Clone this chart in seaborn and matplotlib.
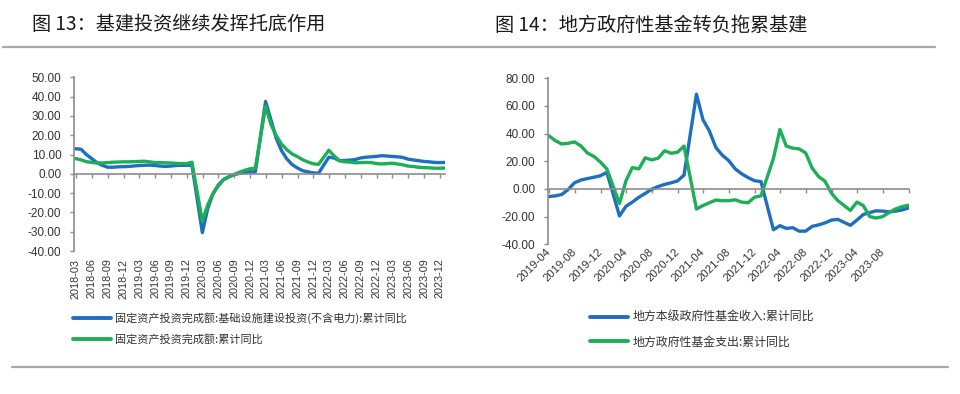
import pandas as pd
import numpy as np
import seaborn as sns
import matplotlib
matplotlib.use('Agg')
import matplotlib.pyplot as plt
from matplotlib.lines import Line2D
from matplotlib.ticker import FormatStrFormatter

sns.set_theme(style='white')
plt.rcParams['font.family'] = ['Noto Sans CJK SC', 'DejaVu Sans']
plt.rcParams['axes.unicode_minus'] = False

BLUE = '#1f6fbf'
GREEN = '#1caf55'
AXIS = '#8c8c8c'
TXT = '#333333'

# ---- data (cumulative yoy, %; January merged into February) ----
left_title = '图 13：基建投资继续发挥托底作用'
right_title = '图 14：地方政府性基金转负拖累基建'

left_names = ['固定资产投资完成额:基础设施建设投资(不含电力):累计同比',
              '固定资产投资完成额:累计同比']
right_names = ['地方本级政府性基金收入:累计同比',
               '地方政府性基金支出:累计同比']

left_months = [d for d in pd.date_range('2018-02-28', '2023-12-31', freq='ME') if d.month != 1]
right_months = [d for d in pd.date_range('2019-03-31', '2023-11-30', freq='ME') if d.month != 1]

infra = [13.0, 12.7, 10.0, 7.9, 5.8, 4.4, 3.4, 3.4, 3.6, 3.7, 3.8,
         4.3, 4.4, 4.5, 4.3, 4.0, 3.8, 4.0, 4.3, 4.4, 4.4, 4.5,
         -30.5, -18.0, -10.5, -5.8, -3.0, -1.5, -0.4, 0.2, 0.8, 1.0, 1.0,
         37.5, 28.0, 18.5, 12.0, 7.8, 4.8, 3.0, 1.6, 1.0, 0.5, 0.3,
         8.6, 8.2, 6.8, 6.9, 7.1, 7.4, 8.2, 8.6, 8.8, 9.0, 9.4,
         9.0, 8.8, 8.5, 7.6, 7.2, 6.8, 6.4, 6.2, 5.9, 5.8, 5.9]
fai = [7.9, 7.2, 6.3, 5.9, 5.6, 5.6, 5.8, 6.0, 6.1, 6.2, 6.2,
       6.4, 6.5, 6.2, 5.8, 5.8, 5.7, 5.6, 5.4, 5.3, 5.3, 6.0,
       -24.5, -16.1, -10.3, -6.3, -3.1, -1.6, -0.3, 0.8, 1.8, 2.6, 2.9,
       35.0, 25.6, 19.9, 15.4, 12.6, 10.3, 8.9, 7.3, 6.1, 5.2, 4.9,
       12.2, 9.3, 6.8, 6.2, 6.1, 5.7, 5.8, 5.9, 5.8, 5.3, 5.1,
       5.5, 5.1, 4.7, 4.0, 3.8, 3.4, 3.2, 3.1, 2.9, 2.9, 3.0]

fund_rev = [-5.5, -5.0, -4.0, -0.5, 4.5, 6.5, 7.5, 8.5, 9.5, 12.0,
            -19.5, -12.5, -9.5, -6.0, -3.2, -0.2, 1.8, 3.3, 4.5, 5.8, 10.0,
            68.5, 50.0, 42.0, 30.0, 24.5, 20.5, 14.5, 11.0, 8.2, 6.0, 5.3,
            -29.5, -26.5, -28.5, -28.0, -30.5, -30.5, -27.0, -26.0, -24.5, -22.5, -22.0,
            -26.3, -22.5, -18.5, -17.0, -15.8, -16.0, -16.6, -16.0, -15.2, -13.8]
fund_exp = [38.5, 35.0, 32.5, 33.0, 34.0, 31.0, 26.0, 23.5, 19.5, 14.5,
            -10.5, 6.0, 15.5, 14.5, 22.5, 21.0, 22.3, 27.6, 25.8, 26.5, 31.0,
            -14.5, -12.0, -10.0, -8.0, -8.5, -8.5, -7.8, -9.5, -10.0, -6.0, -5.0,
            22.0, 43.0, 31.0, 29.5, 29.0, 26.0, 15.0, 9.0, 5.5, -3.0, -8.5,
            -15.5, -9.5, -12.0, -20.0, -21.0, -20.0, -17.0, -14.5, -12.8, -11.8]

left_ticks = pd.date_range('2018-03-01', '2023-12-01', freq='3MS')
left_ticklabels = [d.strftime('%Y-%m') for d in left_ticks]
right_ticks = pd.date_range('2019-04-01', '2023-12-01', freq='4MS')
right_ticklabels = [d.strftime('%Y-%m') for d in right_ticks[:-1]] + ['']


def draw(ax, months, s1, s2, names, ylim, ystep, ticks, ticklabels, xlim, zero_pad, xsize):
    df = pd.DataFrame({
        'date': list(months) * 2,
        'value': s1 + s2,
        'series': [names[0]] * len(s1) + [names[1]] * len(s2),
    })
    sns.lineplot(data=df, x='date', y='value', hue='series', hue_order=names,
                 palette=[BLUE, GREEN], linewidth=2.4, legend=False, ax=ax)
    ax.set_xlim(pd.Timestamp(xlim[0]), pd.Timestamp(xlim[1]))
    ax.set_ylim(*ylim)
    ax.set_yticks(np.arange(ylim[0], ylim[1] + 0.1, ystep))
    ax.yaxis.set_major_formatter(FormatStrFormatter('%.2f'))
    ax.set_xticks(ticks)
    ax.set_xticklabels(ticklabels)
    ax.set_xlabel('')
    ax.set_ylabel('')
    for s in ['top', 'right']:
        ax.spines[s].set_visible(False)
    ax.spines['left'].set_color(AXIS)
    ax.spines['left'].set_linewidth(1.2)
    ax.spines['bottom'].set_position(('data', 0))
    ax.spines['bottom'].set_color(AXIS)
    ax.spines['bottom'].set_linewidth(1.2)
    ax.tick_params(axis='y', direction='out', length=3, width=1, color=AXIS,
                   labelsize=8.5, labelcolor=TXT, pad=6, left=True,
                   labelfontfamily='Liberation Sans')
    ax.tick_params(axis='x', direction='out', length=3, width=1, color=AXIS,
                   labelsize=xsize, labelcolor=TXT, pad=zero_pad, bottom=True,
                   labelfontfamily='Liberation Sans')
    ax.grid(False)
    ax.set_facecolor('white')


fig = plt.figure(figsize=(9.6, 3.94), dpi=100)
W, H = 960, 394

ax1 = fig.add_axes([74 / W, 1 - 251 / H, (445 - 74) / W, (251 - 77.3) / H])
draw(ax1, left_months, infra, fai, left_names, (-40, 50), 10,
     left_ticks, left_ticklabels, ('2018-02-18', '2023-12-31'), 58, 7.8)
for lab in ax1.get_xticklabels():
    lab.set_rotation(90)

ax2 = fig.add_axes([548 / W, 1 - 244.3 / H, (909 - 548) / W, (244.3 - 78.3) / H])
draw(ax2, right_months, fund_rev, fund_exp, right_names, (-40, 80), 20,
     right_ticks, right_ticklabels, ('2019-03-27', '2023-12-03'), 41, 8.2)
for lab in ax2.get_xticklabels():
    lab.set_rotation(45)
    lab.set_ha('right')
    lab.set_va('center')
    lab.set_rotation_mode('anchor')

# titles and rules
fig.text(32 / W, 1 - 25 / H, left_title, fontsize=13.8, va='center', color='#1a1a1a')
fig.text(495 / W, 1 - 25 / H, right_title, fontsize=13.8, va='center', color='#1a1a1a')
fig.add_artist(Line2D([3 / W, 935 / W], [1 - 47 / H] * 2, transform=fig.transFigure,
                      color='#a8a8a8', linewidth=1.6))
fig.add_artist(Line2D([12 / W, 948 / W], [1 - 367 / H] * 2, transform=fig.transFigure,
                      color='#a8a8a8', linewidth=1.6))

# legends
def legend(names, x, y, size):
    handles = [Line2D([], [], color=c, linewidth=2.8) for c in (BLUE, GREEN)]
    leg = fig.legend(handles, names, loc='upper left', bbox_to_anchor=(x / W, 1 - y / H),
                     frameon=False, fontsize=size, handlelength=38 / (size * 1.389),
                     handletextpad=0.4, labelspacing=0.95, borderpad=0, borderaxespad=0)
    for t in leg.get_texts():
        t.set_color(TXT)

legend(left_names, 73, 312, 8)
legend(right_names, 590, 311, 8.6)

fig.savefig('out.png', dpi=100, facecolor='white')
